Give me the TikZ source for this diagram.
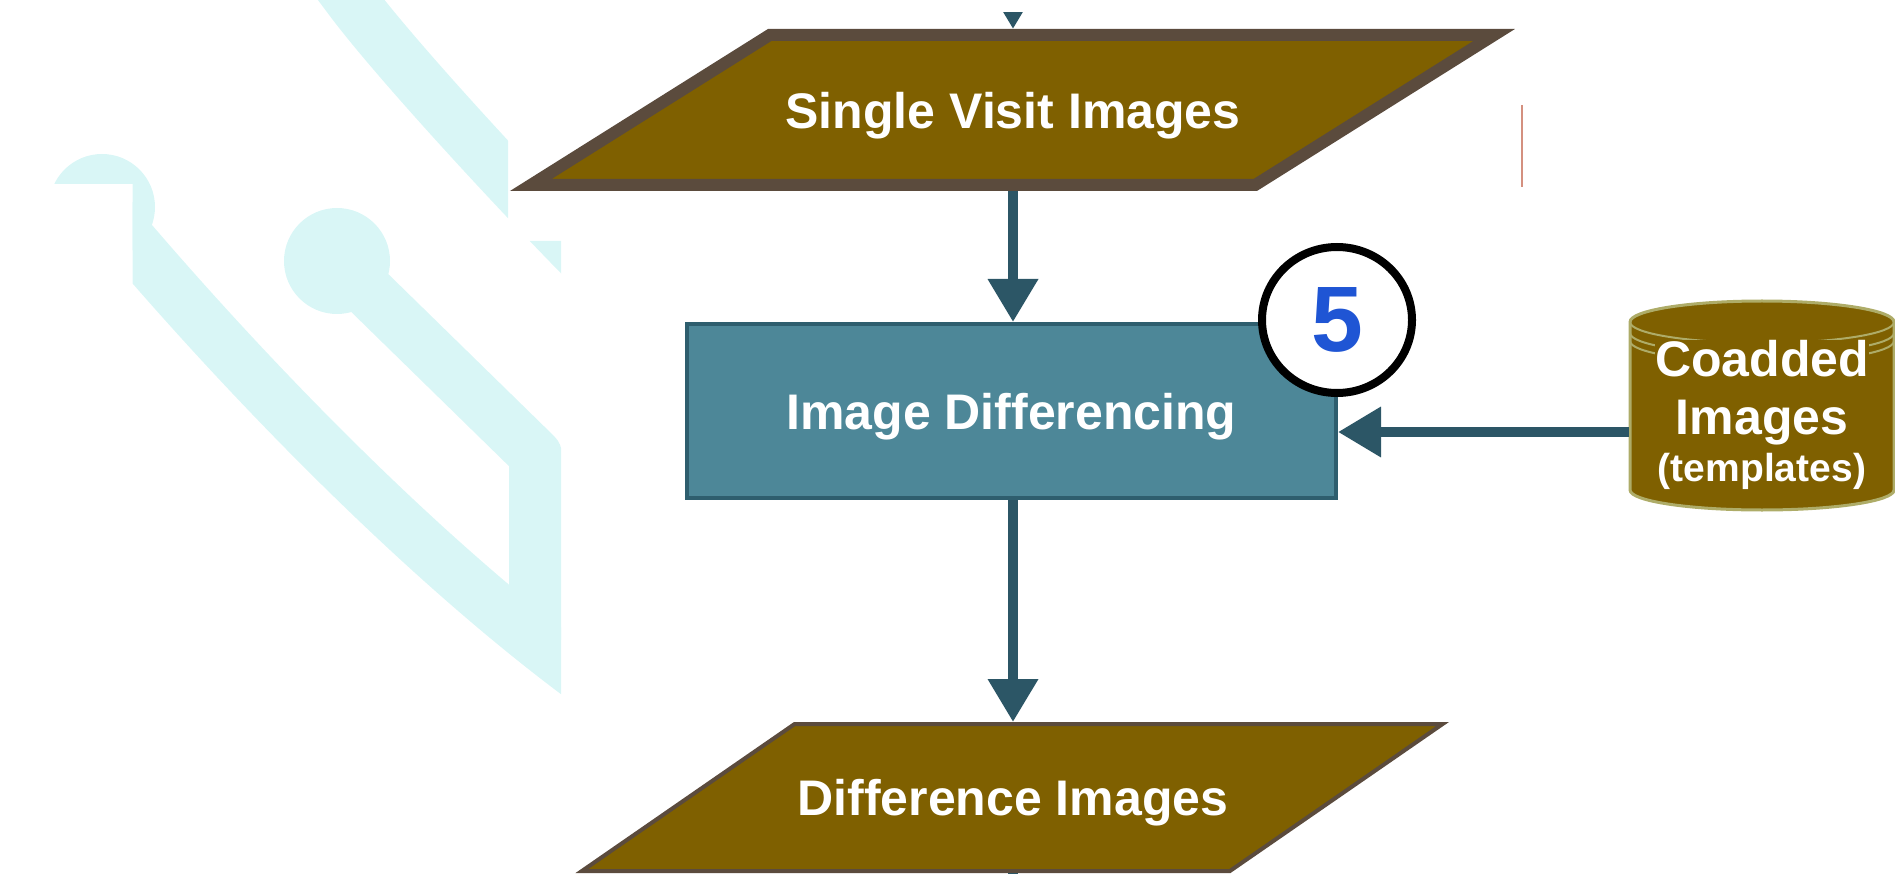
\documentclass[tikz,border=0pt]{standalone}
\usepackage{fontspec}
\setmainfont{Liberation Sans}
\usetikzlibrary{arrows.meta,shapes.geometric}

\definecolor{logocyan}{HTML}{D9F6F6}
\definecolor{dataFill}{HTML}{7F6000}
\definecolor{dataEdge}{HTML}{5B4B3D}
\definecolor{procFill}{HTML}{4D8798}
\definecolor{procEdge}{HTML}{2E5E6E}
\definecolor{flowLine}{HTML}{2C5666}
\definecolor{storeEdge}{HTML}{AEAC68}
\definecolor{stepBlue}{HTML}{1F55D4}
\definecolor{stubRed}{HTML}{D4907F}

\begin{document}
\begin{tikzpicture}[x=1pt,y=-1pt,
  band/.style={draw=logocyan, line width=53pt, line cap=butt},
  flow/.style={draw=flowLine, line width=10pt, -{Triangle[length=43pt,width=48pt]}},
  datashape/.style={fill=dataFill, draw=dataEdge, line join=miter},
  datatext/.style={text=white, font=\fontsize{50}{60}\selectfont\bfseries,
    inner sep=0pt, outer sep=0pt, text depth=0pt},
  proc/.style={rectangle, draw=procEdge, fill=procFill, line width=4pt,
    minimum width=649pt, minimum height=174pt, inner sep=0pt,
    text=white, font=\fontsize{50}{60}\selectfont\bfseries, text depth=0pt},
  badge/.style={ellipse, draw=black, line width=8pt, fill=white,
    minimum width=150pt, minimum height=146pt, inner sep=0pt, text=stepBlue,
    font=\fontsize{93}{93}\selectfont\bfseries},
  storetext/.style={align=center, fill=dataFill, inner sep=0pt, text=white,
    font=\fontsize{50}{58}\selectfont\bfseries},
  storeline/.style={draw=storeEdge, line width=2pt}
]
\useasboundingbox (0,0) rectangle (1895,874);

% faint logo in the background, partly hidden by the white panel
\begin{scope}
  \clip (0,0) -- (508,0) -- (508,241) -- (561,241) -- (561,874)
        -- (132.7,874) -- (132.7,184) -- (0,184) -- cycle;
  \fill[logocyan] (102,207) circle[radius=53];
  \fill[logocyan] (337,261) circle[radius=53];
  \draw[band] (321,-40) -- (351,0) .. controls (396,60) and (520,195) .. (600,275) -- (640,315);
  \draw[band] (102,207) .. controls (230,360) and (420,560) .. (600,690);
  \draw[band, line join=round] (337,261) -- (535.5,455) -- (535.5,640);
\end{scope}

% data: single visit images
\draw[datashape, line width=12pt] (769.7,35) -- (1494.1,35) -- (1255.2,185) -- (530.8,185) -- cycle;
\node[datatext, minimum height=162pt] (svi) at (1013,110) {Single Visit Images};

% process: image differencing
\node[proc] (diff) at (1011.5,411) {Image Differencing};

% data: difference images
\draw[datashape, line width=4pt] (794.6,724) -- (1442.6,724) -- (1229.9,871) -- (581.9,871) -- cycle;
\node[datatext, minimum height=151pt] (dimg) at (1013,797.5) {Difference Images};

% store: coadded template images
\filldraw[fill=dataFill, draw=storeEdge, line width=3pt]
  (1630,322) -- (1630,490)
  arc[start angle=180, end angle=0, x radius=132, y radius=20]
  -- (1894,322)
  arc[start angle=0, end angle=-180, x radius=132, y radius=21] -- cycle;
\draw[storeline] (1630,322) arc[start angle=180, end angle=0, x radius=132, y radius=21];
\draw[storeline] (1630,333) arc[start angle=180, end angle=0, x radius=132, y radius=21];
\draw[storeline] (1630,341) arc[start angle=180, end angle=0, x radius=132, y radius=21];
\node[storetext] (coadd) at (1762,415)
  {Coadded\\Images\\[-11pt]{\fontsize{39}{47}\selectfont (templates)}};
\coordinate (cylport) at (1629,432);

% step number
\node[badge] (step5) at (1337,320) {5};

% stray mark at the panel edge
\draw[stubRed, line width=1.5pt] (1522,105) -- (1522,187);

% connectors
\coordinate (feed) at (1013,-60);
\coordinate (outflow) at (1013,920);
\begin{scope}
  \clip (0,13) rectangle (1895,874);
  \draw[flow] (feed) -- (svi.north);
\end{scope}
\draw[flow] (svi.south) -- (svi.south |- diff.north);
\draw[flow] (cylport) -- (cylport -| diff.east);
\draw[flow] (svi.south |- diff.south) -- (dimg.north);
\draw[draw=flowLine, line width=10pt] (dimg.south) -- (outflow);
\end{tikzpicture}
\end{document}
